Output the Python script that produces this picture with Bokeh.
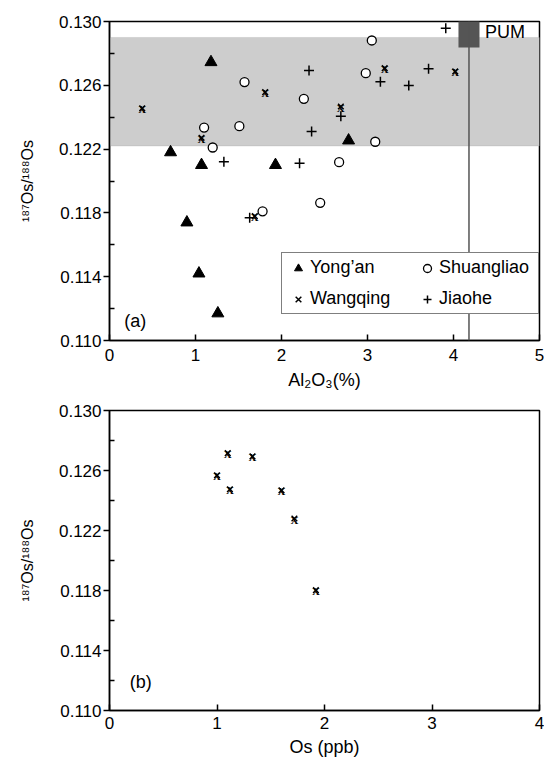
from bokeh.plotting import figure
from bokeh.models import (BoxAnnotation, Label, Legend, LegendItem,
                          FixedTicker, Range1d, Span, NumeralTickFormatter)
from bokeh.layouts import column
from bokeh.embed import file_html
from bokeh.resources import INLINE
from bokeh.core.properties import value

# ---------------- data (a) ----------------
yongan_al = [0.71, 0.90, 1.04, 1.07, 1.18, 1.26, 1.93, 2.78]
yongan_os = [0.1218, 0.1174, 0.1142, 0.1210, 0.12745, 0.1117, 0.1210, 0.12254]

shuang_al = [1.10, 1.20, 1.51, 1.57, 1.78, 2.26, 2.45, 2.67, 2.98, 3.05, 3.09]
shuang_os = [0.12335, 0.1221, 0.12344, 0.1262, 0.1181, 0.12515, 0.11863, 0.12118, 0.12676, 0.12881, 0.12246]

wang_al = [0.38, 1.07, 1.69, 1.81, 2.69, 3.20, 4.02]
wang_os = [0.12456, 0.12271, 0.1178, 0.12557, 0.12467, 0.12707, 0.12687]

jiao_al = [1.33, 1.63, 2.21, 2.32, 2.35, 2.69, 3.15, 3.48, 3.71, 3.91]
jiao_os = [0.1212, 0.1177, 0.12112, 0.12693, 0.1231, 0.12406, 0.12622, 0.12599, 0.12703, 0.12958]

pum_al = [4.18]
pum_os = [0.1296]
pum_band = [0.1222, 0.1290]

# ---------------- data (b) ----------------
wang_os_ppb = [1.10, 1.33, 1.00, 1.12, 1.60, 1.72, 1.92]
wang_ratio_b = [0.12716, 0.12694, 0.12568, 0.12475, 0.12468, 0.12280, 0.11802]

x_ticks_a = [0, 1, 2, 3, 4, 5]
x_ticks_b = [0, 1, 2, 3, 4]
y_ticks = [0.110, 0.114, 0.118, 0.122, 0.126, 0.130]
y_minor_ticks = [0.112, 0.116, 0.120, 0.124, 0.128]

FONT = "Liberation Sans"
YLABEL = "\u00b9\u2078\u2077Os/\u00b9\u2078\u2078Os"


def style(p, xticks, x_std, xl_std):
    p.grid.visible = False
    p.outline_line_color = "black"
    p.outline_line_width = 1.5
    p.background_fill_color = "white"
    p.border_fill_color = "white"
    xa = p.xaxis[0]
    xa.ticker = FixedTicker(ticks=xticks)
    xa.major_tick_in = 6
    xa.major_tick_out = 0
    xa.minor_tick_line_color = None
    xa.major_label_standoff = x_std
    xa.axis_label_standoff = xl_std
    ya = p.yaxis[0]
    ya.ticker = FixedTicker(ticks=y_ticks, minor_ticks=y_minor_ticks)
    ya.formatter = NumeralTickFormatter(format="0.000")
    ya.major_tick_in = 0
    ya.major_tick_out = 6
    ya.minor_tick_in = 5
    ya.minor_tick_out = 0
    ya.major_label_standoff = 2
    ya.axis_label_standoff = 20
    ya.axis_label = YLABEL
    for ax in (xa, ya):
        ax.axis_line_width = 1.5
        ax.axis_line_color = "black"
        ax.major_tick_line_width = 1.5
        ax.minor_tick_line_width = 1.5
        ax.major_label_text_font = FONT
        ax.major_label_text_font_size = "17px"
        ax.major_label_text_color = "black"
        ax.axis_label_text_font = FONT
        ax.axis_label_text_font_style = "normal"
        ax.axis_label_text_color = "black"
    xa.axis_label_text_font_size = "18px"
    ya.axis_label_text_font_size = "16px"


def wang_marks(p, xs, ys):
    r = p.scatter(xs, ys, marker="x", size=8, line_color="black", line_width=1.5)
    p.text(xs, ys, text=["X"] * len(xs), text_font=value("Liberation Serif"),
           text_font_size="11px", text_font_style="bold", text_align="center",
           text_baseline="middle", text_color="black", y_offset=1)
    return r


# ---------------- figure (a) ----------------
p1 = figure(width=544, height=395, x_range=Range1d(0, 5), y_range=Range1d(0.110, 0.130),
            output_backend="svg", toolbar_location=None,
            min_border_left=109, min_border_right=5, min_border_top=21, min_border_bottom=55)
style(p1, x_ticks_a, 8, 6)
p1.xaxis[0].axis_label = "Al\u2082O\u2083(%)"

p1.add_layout(BoxAnnotation(bottom=pum_band[0], top=pum_band[1], fill_color="#cdcdcd",
                            fill_alpha=1, line_color="#a5a5a5", line_width=1, level="underlay"))
p1.add_layout(Span(location=pum_al[0], dimension="height", line_color="#555555", line_width=1.5))
p1.rect(pum_al, pum_os, width=21, height=39, width_units="screen", height_units="screen",
        fill_color="#555555", line_color=None)
p1.add_layout(Label(x=pum_al[0], y=pum_os[0], x_offset=16, y_offset=-4, text="PUM",
                    text_font=FONT, text_font_size="18px", text_baseline="middle", text_color="black"))

r_y = p1.scatter(yongan_al, yongan_os, marker="triangle", size=12, fill_color="black", line_color="black")
r_s = p1.scatter(shuang_al, shuang_os, marker="circle", size=9, fill_color="white",
                 line_color="black", line_width=1.3)
r_w = wang_marks(p1, wang_al, wang_os)
r_j = p1.scatter(jiao_al, jiao_os, marker="cross", size=10, line_color="black", line_width=1.5)

p1.add_layout(Label(x=0.30, y=0.1112, text="(a)", text_font=FONT, text_font_size="18px",
                    text_baseline="middle", text_align="center", text_color="black"))

legend = Legend(items=[LegendItem(label="Yong\u2019an", renderers=[r_y]),
                       LegendItem(label="Wangqing", renderers=[r_w]),
                       LegendItem(label="Shuangliao", renderers=[r_s]),
                       LegendItem(label="Jiaohe", renderers=[r_j])],
                location=(172, 26), ncols=2, padding=4, spacing=10, margin=0,
                glyph_width=24, glyph_height=20, label_standoff=0, label_width=95, label_height=20,
                label_text_font=FONT, label_text_font_size="18px", label_text_color="black",
                border_line_color="black", border_line_width=1.5, background_fill_alpha=1)
p1.add_layout(legend)

# ---------------- figure (b) ----------------
p2 = figure(width=544, height=365, x_range=Range1d(0, 4), y_range=Range1d(0.110, 0.130),
            output_backend="svg", toolbar_location=None,
            min_border_left=108, min_border_right=5, min_border_top=15, min_border_bottom=50)
style(p2, x_ticks_b, 6, 5)
p2.xaxis[0].axis_label = "Os (ppb)"
wang_marks(p2, wang_os_ppb, wang_ratio_b)
p2.add_layout(Label(x=0.29, y=0.1119, text="(b)", text_font=FONT, text_font_size="18px",
                    text_baseline="middle", text_align="center", text_color="black"))

layout = column(p1, p2, spacing=0)
open("out.html", "w").write(file_html(layout, INLINE))
